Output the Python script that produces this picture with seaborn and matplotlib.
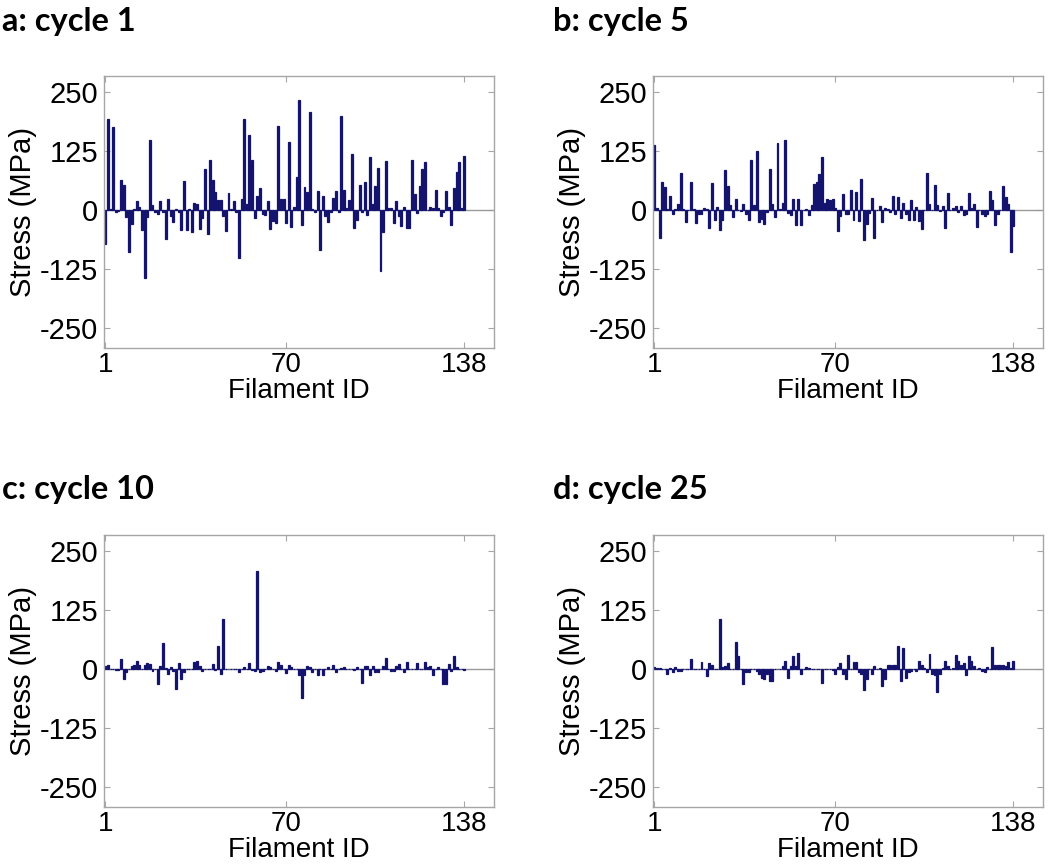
import numpy as np
import pandas as pd
import matplotlib
matplotlib.use("Agg")
import matplotlib.pyplot as plt
import seaborn as sns

filament_ids = list(range(1, 139))
x_ticks = [1, 70, 138]
y_ticks = [-250, -125, 0, 125, 250]
titles = ["a: cycle 1", "b: cycle 5", "c: cycle 10", "d: cycle 25"]

stress_cycle1 = [
    -71, 194, 2, 176, -5, -2, 65, 54, -15, -89, -30, 3, 19, 7, -43, -145, -15, 148, 10, -3,
    -9, 20, -5, -61, 24, -12, -25, 2, -3, -43, 62, -42, 2, -46, 15, 13, -41, -16, 88, -50,
    107, 65, 38, 21, 21, -13, -45, 37, 2, 20, -5, -101, 23, 194, 13, 159, 107, -16, 30, 46,
    -9, -11, 20, -40, -23, -28, 179, 24, 23, -27, 145, -36, 6, 70, 235, -32, 49, 39, 208, 2,
    -5, 40, -85, 31, -13, -25, -4, 25, 40, -5, 199, 42, 5, 21, 119, -37, -20, 54, -3, 59,
    -11, 112, 14, 52, 90, -130, -46, 104, 5, 5, -27, 19, -13, -34, 7, -37, -37, 107, 35, -7,
    52, 88, 103, 1, 6, 5, 42, 4, -13, -3, 40, 6, -32, 47, 80, 102, 4, 116,
]

stress_cycle5 = [
    139, 5, -59, 59, 49, 2, 31, -9, 2, 12, 79, 2, -25, 1, 60, 2, -27, -9, -9, 5,
    2, -39, 58, -20, 7, -42, -20, 85, 51, 10, -15, 23, 1, -2, 14, -9, -21, 107, 11, 125,
    -25, -18, -29, -5, 87, 12, -15, 143, 2, 16, 148, -7, -11, 24, -32, 24, -32, 1, 2, -10,
    10, 56, 59, 77, 113, 16, 24, 21, 23, 5, -45, -13, 34, -9, -9, 42, -21, 38, -23, 66,
    -64, -30, -6, 26, -59, 1, 8, -25, 4, 3, -4, 31, -9, 28, -16, 16, -9, -20, 21, -22,
    6, -23, -41, 1, 78, 12, 1, 54, 10, -2, 8, -39, 37, 1, 5, 8, -3, 8, -11, -9,
    37, 5, 14, -36, 1, -9, -13, -9, 40, 21, -32, -9, 1, 52, 28, 12, -90, -34,
]

stress_cycle10 = [
    6, 9, 1, 1, -2, -2, 22, -21, -6, 1, 6, 9, 18, 8, 1, 8, 12, 11, -4, 1,
    -31, 6, 55, 2, -10, 4, -5, -43, 13, -21, -6, 1, 1, 1, 15, 17, 6, -5, 1, 1,
    1, 11, -2, 49, -10, 107, 1, 1, 1, 1, 1, -6, 1, 4, 1, 13, -2, -4, 209, -6,
    -4, 1, 6, 4, 1, -5, 15, 8, 1, -8, 9, 4, 1, 1, -13, -62, -13, 6, 4, -6,
    1, -12, 1, -12, 1, 4, 1, 8, -6, 1, 2, 4, 1, 1, 1, -2, 4, 1, -29, 6,
    6, -13, 6, -6, -6, 1, 6, 23, 1, -5, -5, 6, 11, 1, -6, 15, 1, 1, 1, 13,
    1, 1, 15, 4, 6, -12, 1, 4, 1, -31, -31, 11, -5, 27, 4, 1, 1, -2,
]

stress_cycle25 = [
    4, 3, 3, 1, 1, -10, 2, -6, 4, -4, -4, 1, 1, 1, 22, 1, 1, 1, 15, 1,
    -15, 13, 9, 1, 1, 107, 4, 6, 12, 1, 1, 58, 28, 1, -31, -6, -6, 1, 1, -4,
    -10, -19, -22, -10, -26, -26, 1, 1, 1, 6, 18, -19, 6, 28, 6, 34, -10, 1, 4, 3,
    1, 1, 1, 1, -30, 1, 1, 1, -2, -10, 4, 13, -10, -22, 29, 1, 15, 15, -6, -10,
    -45, -21, 1, -10, 6, 1, 2, -36, -22, 9, 8, 8, 9, 50, -26, 44, -18, -6, -4, 1,
    -4, 18, 8, 2, -6, 33, -10, -13, -49, -10, 2, 18, 6, 1, 2, 31, 18, 8, 13, -13,
    27, 18, 6, 1, 2, -4, -6, 4, 1, 47, 8, 8, 8, 8, 6, 15, 2, 17,
]

series = [stress_cycle1, stress_cycle5, stress_cycle10, stress_cycle25]

sns.set_theme(style="white")
plt.rcParams["font.family"] = ["Liberation Sans", "DejaVu Sans"]
plt.rcParams["text.color"] = "black"
plt.rcParams["axes.labelcolor"] = "black"
plt.rcParams["xtick.color"] = "black"
plt.rcParams["ytick.color"] = "black"

BAR_COLOR = "#14146e"
FRAME_COLOR = "#a6a6a6"
FS_Y = 21
FS_X = 20

W, H = 1050, 864
fig = plt.figure(figsize=(W / 100, H / 100), dpi=100)

boxes = [
    (104, 76, 494, 348),
    (653, 76, 1043, 348),
    (104, 535, 494, 807),
    (653, 535, 1043, 807),
]
title_pos = [(2, 21), (553, 21), (2, 490), (553, 490)]

for k, (vals, title) in enumerate(zip(series, titles)):
    l, t, r, b = boxes[k]
    ax = fig.add_axes([l / W, 1 - b / H, (r - l) / W, (b - t) / H])
    df = pd.DataFrame({"Filament": filament_ids, "Stress": vals})
    ax.axhline(0, color="#9a9a9a", lw=1.0, zorder=1)
    sns.barplot(data=df, x="Filament", y="Stress", native_scale=True,
                color=BAR_COLOR, saturation=1, width=0.75, linewidth=0.9,
                edgecolor=BAR_COLOR, errorbar=None, ax=ax, zorder=2)
    ax.set_xlim(0.5, 149.3)
    ax.set_ylim(-293, 285)
    ax.set_xticks(x_ticks)
    ax.set_xticklabels([str(v) for v in x_ticks], fontfamily="Liberation Sans")
    ax.set_yticks(y_ticks)
    ax.set_yticklabels([str(v) for v in y_ticks], fontfamily="Liberation Sans")
    ax.tick_params(axis="both", direction="in", length=4, width=0.8,
                   color=FRAME_COLOR, labelcolor="black",
                   top=True, right=True, bottom=True, left=True)
    ax.tick_params(axis="x", labelsize=FS_X, pad=3)
    ax.tick_params(axis="y", labelsize=FS_Y, pad=4)
    for sp in ax.spines.values():
        sp.set_color(FRAME_COLOR)
        sp.set_linewidth(1.0)
        sp.set_visible(True)
    ax.set_xlabel("Filament ID", fontsize=FS_X, labelpad=0,
                  fontfamily="Liberation Sans", color="black")
    ax.set_ylabel("Stress (MPa)", fontsize=FS_Y, labelpad=2,
                  fontfamily="Liberation Sans", color="black")
    ax.set_facecolor("white")
    tx, ty = title_pos[k]
    fig.text(tx / W, 1 - ty / H, title, fontsize=23.5, fontweight="bold",
             family=["Lato", "DejaVu Sans"], ha="left", va="center", color="black")

fig.savefig("out.png", dpi=100, facecolor="white")
